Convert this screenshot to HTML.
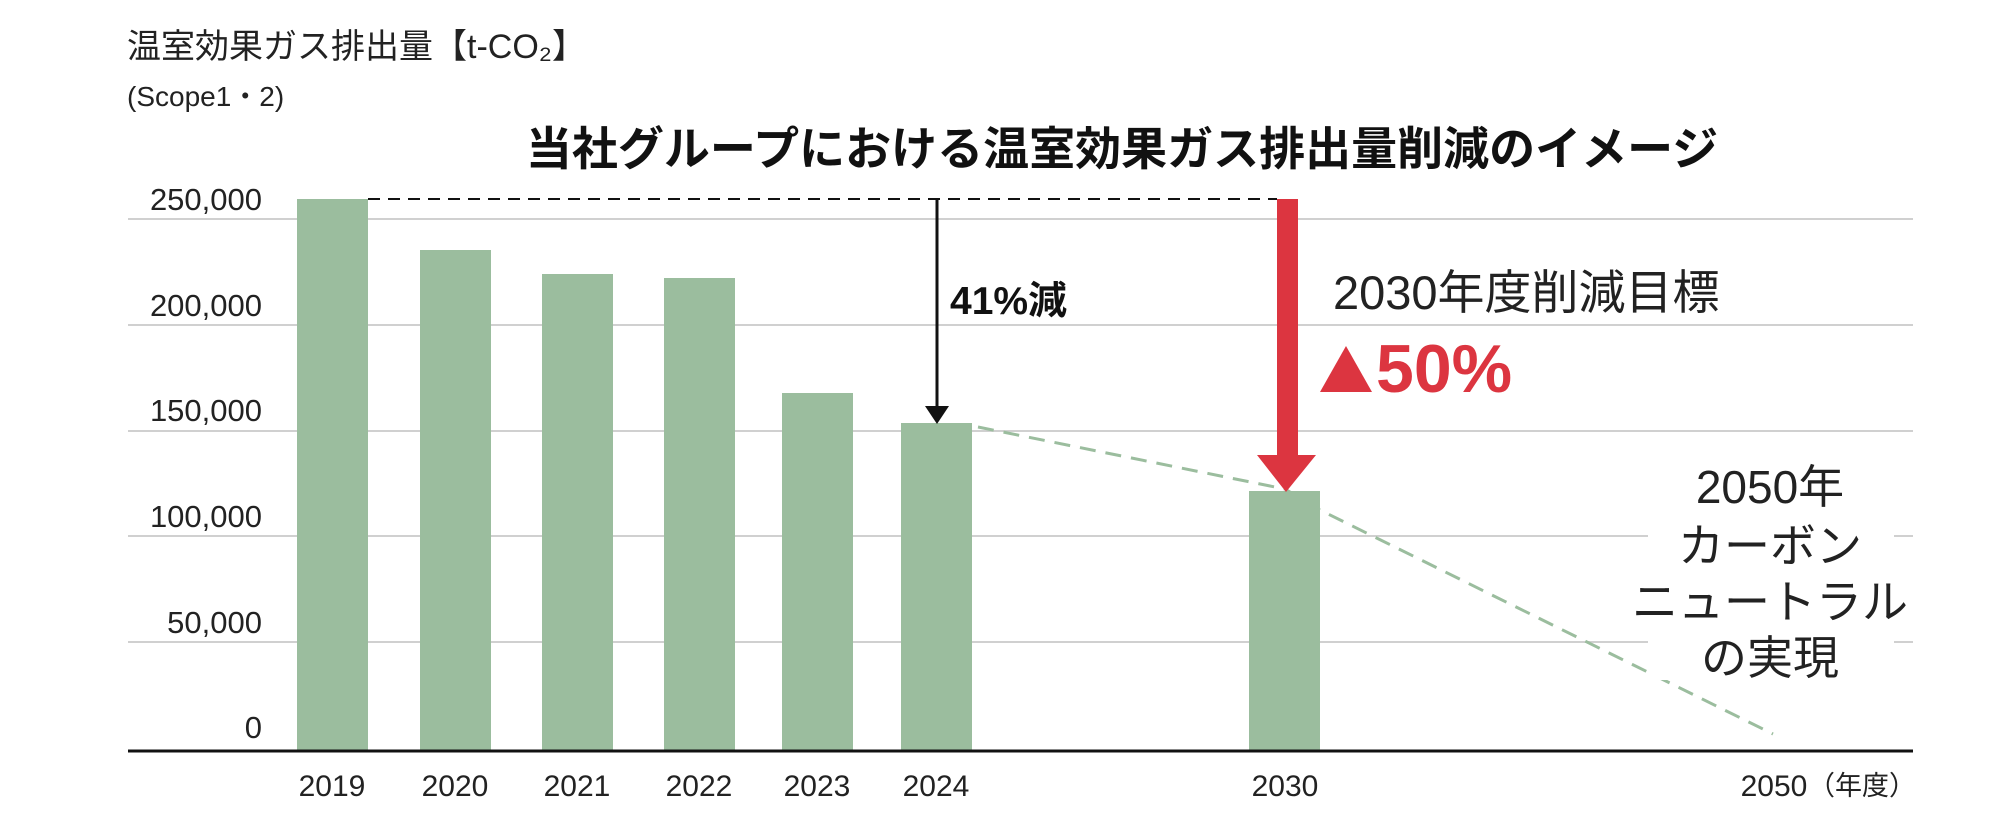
<!DOCTYPE html>
<html><head><meta charset="utf-8"><style>
body{margin:0;background:#fff;}
svg{display:block;font-family:"Liberation Sans","Noto Sans CJK JP",sans-serif;}
</style></head><body>
<svg width="2000" height="826" viewBox="0 0 2000 826" xmlns="http://www.w3.org/2000/svg">
<text x="127" y="58" font-size="34" fill="#222">温室効果ガス排出量【t-CO₂】</text>
<text x="127" y="106" font-size="28" fill="#222">(Scope1・2)</text>
<text x="1122" y="165" font-size="46" font-weight="bold" fill="#111" text-anchor="middle">当社グループにおける温室効果ガス排出量削減のイメージ</text>
<g stroke="#d0d0d0" stroke-width="2">
<line x1="128" y1="219" x2="1913" y2="219"/>
<line x1="128" y1="325" x2="1913" y2="325"/>
<line x1="128" y1="431" x2="1913" y2="431"/>
<line x1="128" y1="536" x2="1913" y2="536"/>
<line x1="128" y1="642" x2="1913" y2="642"/>
</g>
<g font-size="31" fill="#222" text-anchor="end">
<text x="262" y="210">250,000</text>
<text x="262" y="316">200,000</text>
<text x="262" y="421">150,000</text>
<text x="262" y="527">100,000</text>
<text x="262" y="633">50,000</text>
<text x="262" y="738">0</text>
</g>
<g fill="#9bbd9e">
<rect x="297" y="199" width="71" height="551"/>
<rect x="420" y="250" width="71" height="500"/>
<rect x="542" y="274" width="71" height="476"/>
<rect x="664" y="278" width="71" height="472"/>
<rect x="782" y="393" width="71" height="357"/>
<rect x="901" y="423" width="71" height="327"/>
<rect x="1249" y="491" width="71" height="259"/>
</g>
<line x1="128" y1="751" x2="1913" y2="751" stroke="#111" stroke-width="3"/>
<g font-size="30" fill="#222" text-anchor="middle">
<text x="332" y="796">2019</text>
<text x="455" y="796">2020</text>
<text x="577" y="796">2021</text>
<text x="699" y="796">2022</text>
<text x="817" y="796">2023</text>
<text x="936" y="796">2024</text>
<text x="1285" y="796">2030</text>
<text x="1774" y="796">2050</text>
</g>
<text x="1808" y="795" font-size="27" fill="#222">（年度）</text>
<line x1="368" y1="199" x2="1277" y2="199" stroke="#111" stroke-width="2" stroke-dasharray="12,8"/>
<polyline points="978,427 1285,489 1320,510 1773,734" fill="none" stroke="#9bbd9e" stroke-width="3" stroke-dasharray="16,10"/>
<line x1="937" y1="199" x2="937" y2="410" stroke="#111" stroke-width="3"/>
<polygon points="925,406 949,406 937,424" fill="#111"/>
<text x="950" y="314" font-size="39" font-weight="bold" fill="#111">41%減</text>
<rect x="1277" y="199" width="21" height="258" fill="#dc3540"/>
<polygon points="1257,455 1316,455 1286,492" fill="#dc3540"/>
<text x="1333" y="309" font-size="47" fill="#222">2030年度削減目標</text>
<polygon points="1320,392 1372,392 1346,346" fill="#dc3540"/>
<text x="1376" y="392" font-size="68" font-weight="bold" fill="#dc3540">50%</text>
<rect x="1648" y="460" width="246" height="220" fill="#fff"/>
<g font-size="46" fill="#222" text-anchor="middle">
<text x="1770" y="503">2050年</text>
<text x="1770" y="562">カーボン</text>
<text x="1770" y="618">ニュートラル</text>
<text x="1770" y="674">の実現</text>
</g>
</svg>
</body></html>
